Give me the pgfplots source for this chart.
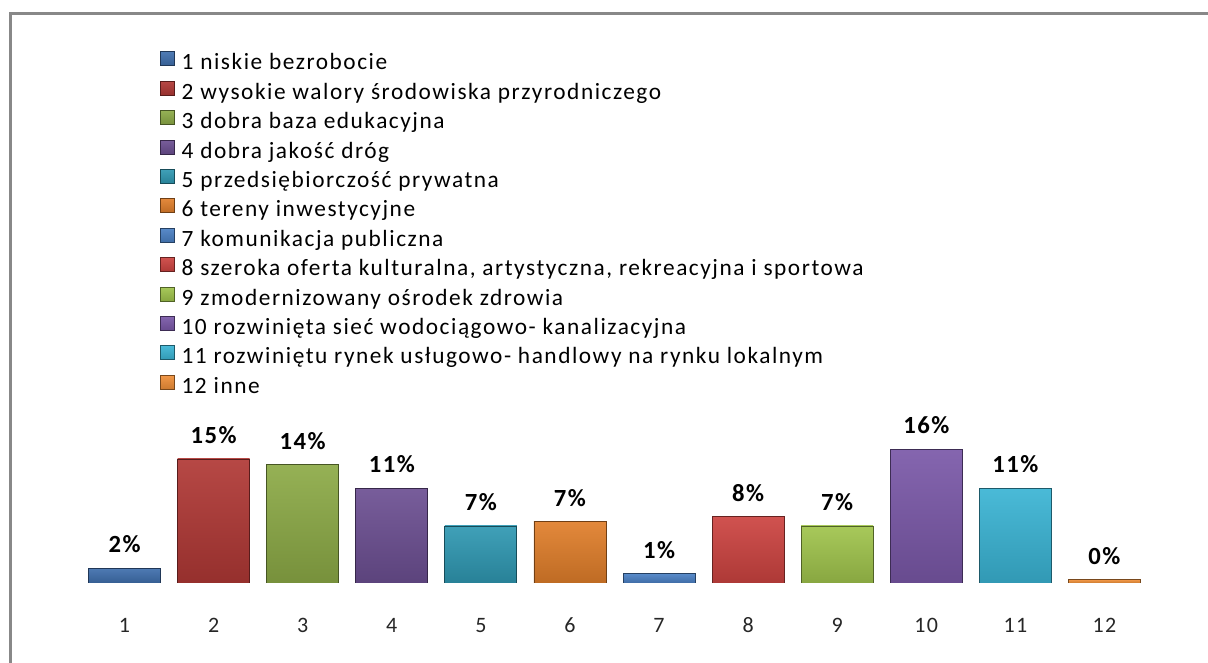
\documentclass[border=0pt]{standalone}
\usepackage{fontspec}
\setmainfont{Carlito}
\newfontfamily\legfont{Carlito}[LetterSpace=6.6]
\newfontfamily\lblfont{Carlito}[LetterSpace=6]
\usepackage{pgfplots}
\pgfplotsset{compat=1.18}

\definecolor{cBlue}{HTML}{3F6FAD}
\definecolor{cRed}{HTML}{B03835}
\definecolor{cGreen}{HTML}{8CAA46}
\definecolor{cPurple}{HTML}{6C4F92}
\definecolor{cAqua}{HTML}{2F98B2}
\definecolor{cOrange}{HTML}{E07E2A}
\definecolor{cRed2}{HTML}{CC4340}
\definecolor{cGreen2}{HTML}{A0C44C}
\definecolor{cPurple2}{HTML}{7A58A8}
\definecolor{cAqua2}{HTML}{3AB4D4}
\definecolor{cBlue2}{HTML}{4A80C4}
\definecolor{cOrange2}{HTML}{F08F38}
\definecolor{frame}{HTML}{888888}

\tikzset{mybar/.style={top color=#1!92!white, bottom color=#1!85!black, draw=#1!50!black, line width=0.6pt}}

\begin{document}
\begin{tikzpicture}
\useasboundingbox (0,0) rectangle (906pt,497.25pt);
% ramka wykresu
\draw[frame, line width=2pt] (8pt,-5pt) -- (8pt,487.3pt) -- (915pt,487.3pt);

\begin{axis}[
    at={(60pt,60pt)}, anchor=south west,
    scale only axis, width=801.75pt, height=124.05pt,
    xmin=0.5, xmax=12.5, ymin=0, ymax=20,
    ybar, bar width=54pt,
    every axis plot/.append style={bar shift=0pt},
    xtick={1,...,12}, ytick=\empty,
    axis line style={draw=none}, major tick length=0pt,
    /pgf/number format/assume math mode=true,
    xticklabel style={font=\lblfont\fontsize{16.5}{16.5}\selectfont, anchor=base, yshift=-37.5pt, text=black!85},
    nodes near coords={\pgfmathprintnumber[fixed,precision=0]{\pgfplotspointmeta}\%},
    every node near coord/.append style={font=\lblfont\bfseries\fontsize{18.5}{18.5}\selectfont, anchor=base, yshift=11.5pt, inner sep=0pt, text=black},
    legend style={at={(0.071,3.233)}, anchor=north west, draw=none, fill=none,
        font=\legfont\fontsize{17.5}{17.5}\selectfont,
        nodes={inner sep=0pt, text height=14pt, text depth=8.05pt},
        column sep=5pt, row sep=0pt},
    legend cell align=left,
    legend image code/.code={\draw[#1] (0pt,0pt) rectangle (10.5pt,10.5pt);},
]
\addplot[mybar=cBlue] coordinates {(1,1.8)};
\addlegendentry{1 niskie bezrobocie}
\addplot[mybar=cRed] coordinates {(2,15)};
\addlegendentry{2 wysokie walory środowiska przyrodniczego}
\addplot[mybar=cGreen] coordinates {(3,14.3)};
\addlegendentry{3 dobra baza edukacyjna}
\addplot[mybar=cPurple] coordinates {(4,11.45)};
\addlegendentry{4 dobra jakość dróg}
\addplot[mybar=cAqua] coordinates {(5,6.9)};
\addlegendentry{5 przedsiębiorczość prywatna}
\addplot[mybar=cOrange] coordinates {(6,7.4)};
\addlegendentry{6 tereny inwestycyjne}
\addplot[mybar=cBlue2] coordinates {(7,1.1)};
\addlegendentry{7 komunikacja publiczna}
\addplot[mybar=cRed2] coordinates {(8,8.0)};
\addlegendentry{8 szeroka oferta kulturalna, artystyczna, rekreacyjna i sportowa}
\addplot[mybar=cGreen2] coordinates {(9,6.9)};
\addlegendentry{9 zmodernizowany ośrodek zdrowia}
\addplot[mybar=cPurple2] coordinates {(10,16.2)};
\addlegendentry{10 rozwinięta sieć wodociągowo- kanalizacyjna}
\addplot[mybar=cAqua2] coordinates {(11,11.45)};
\addlegendentry{11 rozwiniętu rynek usługowo- handlowy na rynku lokalnym}
\addplot[mybar=cOrange2] coordinates {(12,0.4)};
\addlegendentry{12 inne}
\end{axis}
\end{tikzpicture}
\end{document}
